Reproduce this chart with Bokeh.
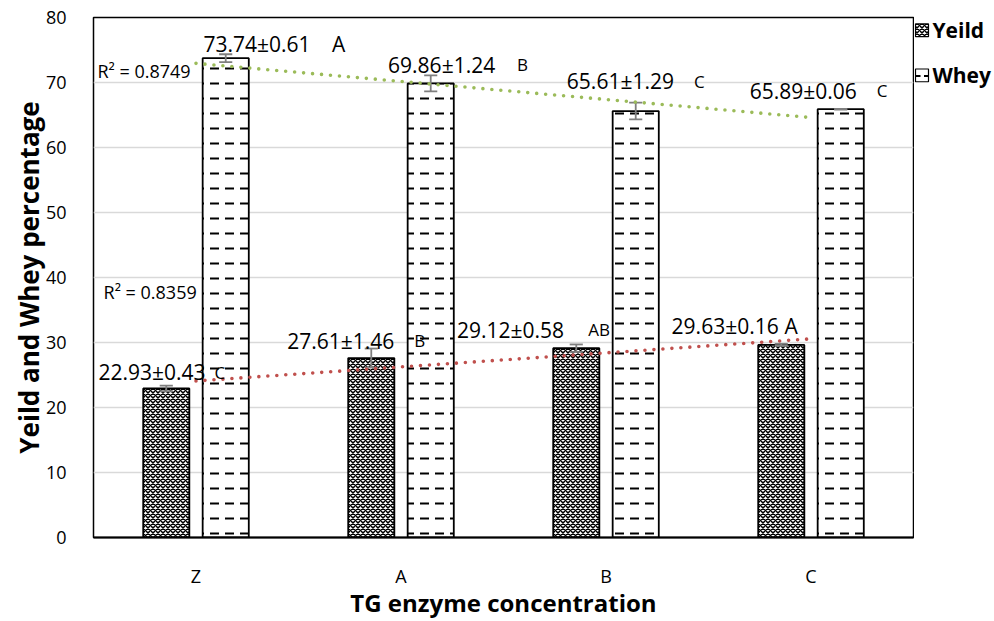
import numpy as np
from bokeh.plotting import figure
from bokeh.layouts import row
from bokeh.models import Range1d, FactorRange, FixedTicker, ColumnDataSource
from bokeh.transform import dodge
from bokeh.core.properties import value
from bokeh.embed import file_html
from bokeh.resources import INLINE

# ---- data -------------------------------------------------------------
categories = ["Z", "A", "B", "C"]
yeild = [22.93, 27.61, 29.12, 29.63]
yeild_sd = [0.43, 1.46, 0.58, 0.16]
yeild_group = ["C", "B", "AB", "A"]
whey = [73.74, 69.86, 65.61, 65.89]
whey_sd = [0.61, 1.24, 1.29, 0.06]
whey_group = ["A", "B", "C", "C"]
series_names = ["Yeild", "Whey"]
y_ticks = [0, 10, 20, 30, 40, 50, 60, 70, 80]

# ---- label placement (category-unit offsets, data-unit baselines) ------
whey_lab_dx = [0.036, -0.063, -0.191, -0.299]
whey_sfx_dx = [0.728, 0.619, 0.482, 0.373]
whey_lab_y = [75.9, 72.75, 70.2, 68.7]
whey_sfx_size = ["21px", "17px", "17px", "17px"]
yeild_lab_dx = [-0.476, -0.555, -0.727, -0.680]
yeild_sfx_dx = [0.143, 0.118, 0.019, -0.065]
yeild_lab_y = [25.4, 30.3, 32.0, 32.6]
yeild_sfx_size = ["17px", "17px", "17px", "21px"]

FONT = "Open Sans"
BAR_OFF = 0.145
BAR_W = 0.225
CAP = 0.032

YEILD_STYLE = dict(fill_color="white", line_color="black", line_width=1.8,
                   hatch_pattern="diagonal_cross", hatch_color="black",
                   hatch_scale=5, hatch_weight=1.5)
WHEY_STYLE = dict(fill_color="white", line_color="black", line_width=1.8,
                  hatch_pattern="horizontal_dash", hatch_color="black",
                  hatch_scale=15, hatch_weight=2)

p = figure(x_range=FactorRange(factors=categories), y_range=Range1d(0, 80),
           width=914, height=621, output_backend="svg", toolbar_location=None,
           min_border_left=93, min_border_right=1, min_border_top=17,
           min_border_bottom=74, background_fill_color="white",
           border_fill_color="white")

p.outline_line_color = "black"
p.outline_line_width = 1.5
p.xgrid.grid_line_color = None
p.ygrid.grid_line_color = "#D9D9D9"
p.ygrid.grid_line_width = 1.3

p.yaxis.ticker = FixedTicker(ticks=y_ticks)
for ax in (p.xaxis, p.yaxis):
    ax.major_tick_line_color = None
    ax.minor_tick_line_color = None
    ax.major_label_text_font = FONT
    ax.major_label_text_font_size = "18px"
    ax.major_label_text_color = "black"
    ax.axis_label_text_font = FONT
    ax.axis_label_text_font_style = "bold"
    ax.axis_label_text_color = "black"
p.xaxis.axis_label_text_font_size = "24px"
p.yaxis.axis_label_text_font_size = "26px"
p.yaxis.axis_line_color = None
p.xaxis.axis_line_color = "black"
p.xaxis.axis_line_width = 2
p.yaxis.major_label_standoff = 21
p.yaxis.axis_label_standoff = -4
p.xaxis.major_label_standoff = 20
p.xaxis.axis_label_standoff = -5
p.xaxis.axis_label = "TG enzyme concentration"
p.yaxis.axis_label = "Yeild and Whey percentage"

src = ColumnDataSource(dict(
    cat=categories, yeild=yeild, whey=whey,
    y_lo=[v - s for v, s in zip(yeild, yeild_sd)],
    y_hi=[v + s for v, s in zip(yeild, yeild_sd)],
    w_lo=[v - s for v, s in zip(whey, whey_sd)],
    w_hi=[v + s for v, s in zip(whey, whey_sd)],
))

p.vbar(x=dodge("cat", -BAR_OFF, range=p.x_range), top="yeild", width=BAR_W,
       source=src, **YEILD_STYLE)
p.vbar(x=dodge("cat", BAR_OFF, range=p.x_range), top="whey", width=BAR_W,
       source=src, **WHEY_STYLE)

# error bars
ERR = "#7F7F7F"
for off, lo, hi in ((-BAR_OFF, "y_lo", "y_hi"), (BAR_OFF, "w_lo", "w_hi")):
    p.segment(x0=dodge("cat", off, range=p.x_range), x1=dodge("cat", off, range=p.x_range),
              y0=lo, y1=hi, source=src, line_color=ERR, line_width=1.8)
    for end in (lo, hi):
        p.segment(x0=dodge("cat", off - CAP, range=p.x_range),
                  x1=dodge("cat", off + CAP, range=p.x_range),
                  y0=end, y1=end, source=src, line_color=ERR, line_width=1.8)

# linear trendlines with R²
xs = np.arange(1, len(categories) + 1)


def trend(vals):
    coef = np.polyfit(xs, vals, 1)
    fit = np.polyval(coef, xs)
    r2 = 1 - np.sum((np.array(vals) - fit) ** 2) / np.sum((np.array(vals) - np.mean(vals)) ** 2)
    return fit, r2


y_fit, y_r2 = trend(yeild)
w_fit, w_r2 = trend(whey)
p.line(x=categories, y=w_fit, line_color="#9BBB59", line_width=3.6,
       line_dash="0 9", line_cap="round")
p.line(x=categories, y=y_fit, line_color="#C0504D", line_width=3.6,
       line_dash="0 9", line_cap="round")

p.text(x=[0.5 - 0.481, 0.5 - 0.451], y=[71.7, 37.7],
       text=[f"R² = {w_r2:.4f}", f"R² = {y_r2:.4f}"],
       text_font=value(FONT), text_font_size="18px", text_color="black",
       text_align="left", text_baseline="alphabetic")

# value labels: mean ± sd followed by the significance letter
idx = list(range(len(categories)))
lab = ColumnDataSource(dict(
    x=[i + 0.5 + d for i, d in zip(idx, whey_lab_dx)] + [i + 0.5 + d for i, d in zip(idx, yeild_lab_dx)],
    xs=[i + 0.5 + d for i, d in zip(idx, whey_sfx_dx)] + [i + 0.5 + d for i, d in zip(idx, yeild_sfx_dx)],
    y=whey_lab_y + yeild_lab_y,
    txt=[f"{v:.2f}±{s:.2f}" for v, s in zip(whey, whey_sd)] + [f"{v:.2f}±{s:.2f}" for v, s in zip(yeild, yeild_sd)],
    sfx=whey_group + yeild_group,
    size=whey_sfx_size + yeild_sfx_size,
))
p.text(x="x", y="y", text="txt", source=lab, text_font=value(FONT),
       text_font_size="21px", text_color="black", text_align="left",
       text_baseline="alphabetic")
p.text(x="xs", y="y", text="sfx", source=lab, text_font=value(FONT),
       text_font_size="size", text_color="black", text_align="right",
       text_baseline="alphabetic")

# legend strip to the right of the plot frame; its frame lines up with the
# main frame (rows 17..547), so the y range is given in page pixels, y down
leg = figure(width=80, height=621, output_backend="svg", toolbar_location=None,
             x_range=Range1d(0, 80), y_range=Range1d(547, 17),
             min_border=0, outline_line_color=None,
             background_fill_color="white", border_fill_color="white")
leg.axis.visible = False
leg.grid.visible = False
key_y = [30, 76]
leg.rect(x=[7.5], y=key_y[:1], width=13, height=13, **dict(YEILD_STYLE, line_width=1.2))
leg.rect(x=[7.5], y=key_y[1:], width=13, height=13, **dict(WHEY_STYLE, line_width=1.2,
                                                          hatch_scale=10))
leg.text(x=[18, 18], y=key_y, text=series_names, text_font=value(FONT),
         text_font_size="21px", text_font_style="bold", text_color="black",
         text_align="left", text_baseline="middle")

open("out.html", "w").write(file_html(row(p, leg), INLINE))
